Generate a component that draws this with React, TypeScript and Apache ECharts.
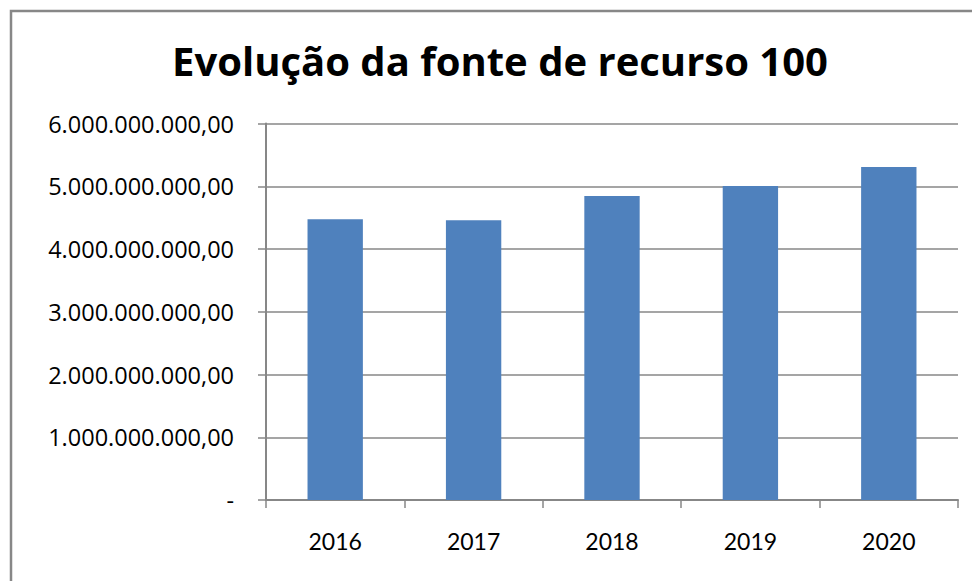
import React, { useEffect, useRef } from "react";
import * as echarts from "echarts";

const categories = ["2016", "2017", "2018", "2019", "2020"];
const values = [4476000000, 4460000000, 4845000000, 5005000000, 5305000000];
const yTicks = { min: 0, max: 6000000000, interval: 1000000000 };
const titleText = "Evolução da fonte de recurso 100";

function formatBR(v: number): string {
  if (v === 0) return "-";
  const intPart = Math.round(v).toString().replace(/\B(?=(\d{3})+(?!\d))/g, ".");
  return intPart + ",00";
}

export default function App() {
  const ref = useRef<HTMLDivElement>(null);
  useEffect(() => {
    if (!ref.current) return;
    const chart = echarts.init(ref.current, undefined, { renderer: "svg" });
    chart.setOption({
      animation: false,
      backgroundColor: "#ffffff",
      title: {
        text: titleText,
        left: 495,
        top: 35,
        textAlign: "center",
        textStyle: { fontFamily: "Open Sans", fontWeight: "bold", fontSize: 40, color: "#000000" },
      },
      graphic: [
        {
          type: "rect",
          shape: { x: 11, y: 11, width: 1000, height: 1000 },
          style: { fill: "none", stroke: "#878787", lineWidth: 2.5 },
          silent: true,
        },
      ],
      grid: { left: 266, right: 14, top: 123.5, bottom: 81 },
      xAxis: {
        type: "category",
        data: categories,
        boundaryGap: true,
        axisLine: { lineStyle: { color: "#878787", width: 2 } },
        axisTick: { show: true, length: 8, alignWithLabel: false, lineStyle: { color: "#878787", width: 1.5 } },
        axisLabel: { margin: 29, fontFamily: "Lato", fontSize: 23, color: "#000000" },
      },
      yAxis: {
        type: "value",
        min: yTicks.min,
        max: yTicks.max,
        interval: yTicks.interval,
        axisLine: { show: true, lineStyle: { color: "#878787", width: 2 } },
        axisTick: { show: true, length: 8, lineStyle: { color: "#878787", width: 1.5 } },
        splitLine: { show: true, lineStyle: { color: "#878787", width: 1.5 } },
        axisLabel: {
          margin: 32,
          fontFamily: "Open Sans",
          fontSize: 23.5,
          color: "#000000",
          formatter: (v: number) => formatBR(v),
        },
      },
      series: [
        {
          type: "bar",
          data: values,
          barWidth: "40%",
          itemStyle: { color: "#4F81BD" },
        },
      ],
    });
    return () => chart.dispose();
  }, []);
  return (
    <div
      ref={ref}
      style={{ position: "absolute", left: 0, top: 0, width: 972, height: 581 }}
    />
  );
}
